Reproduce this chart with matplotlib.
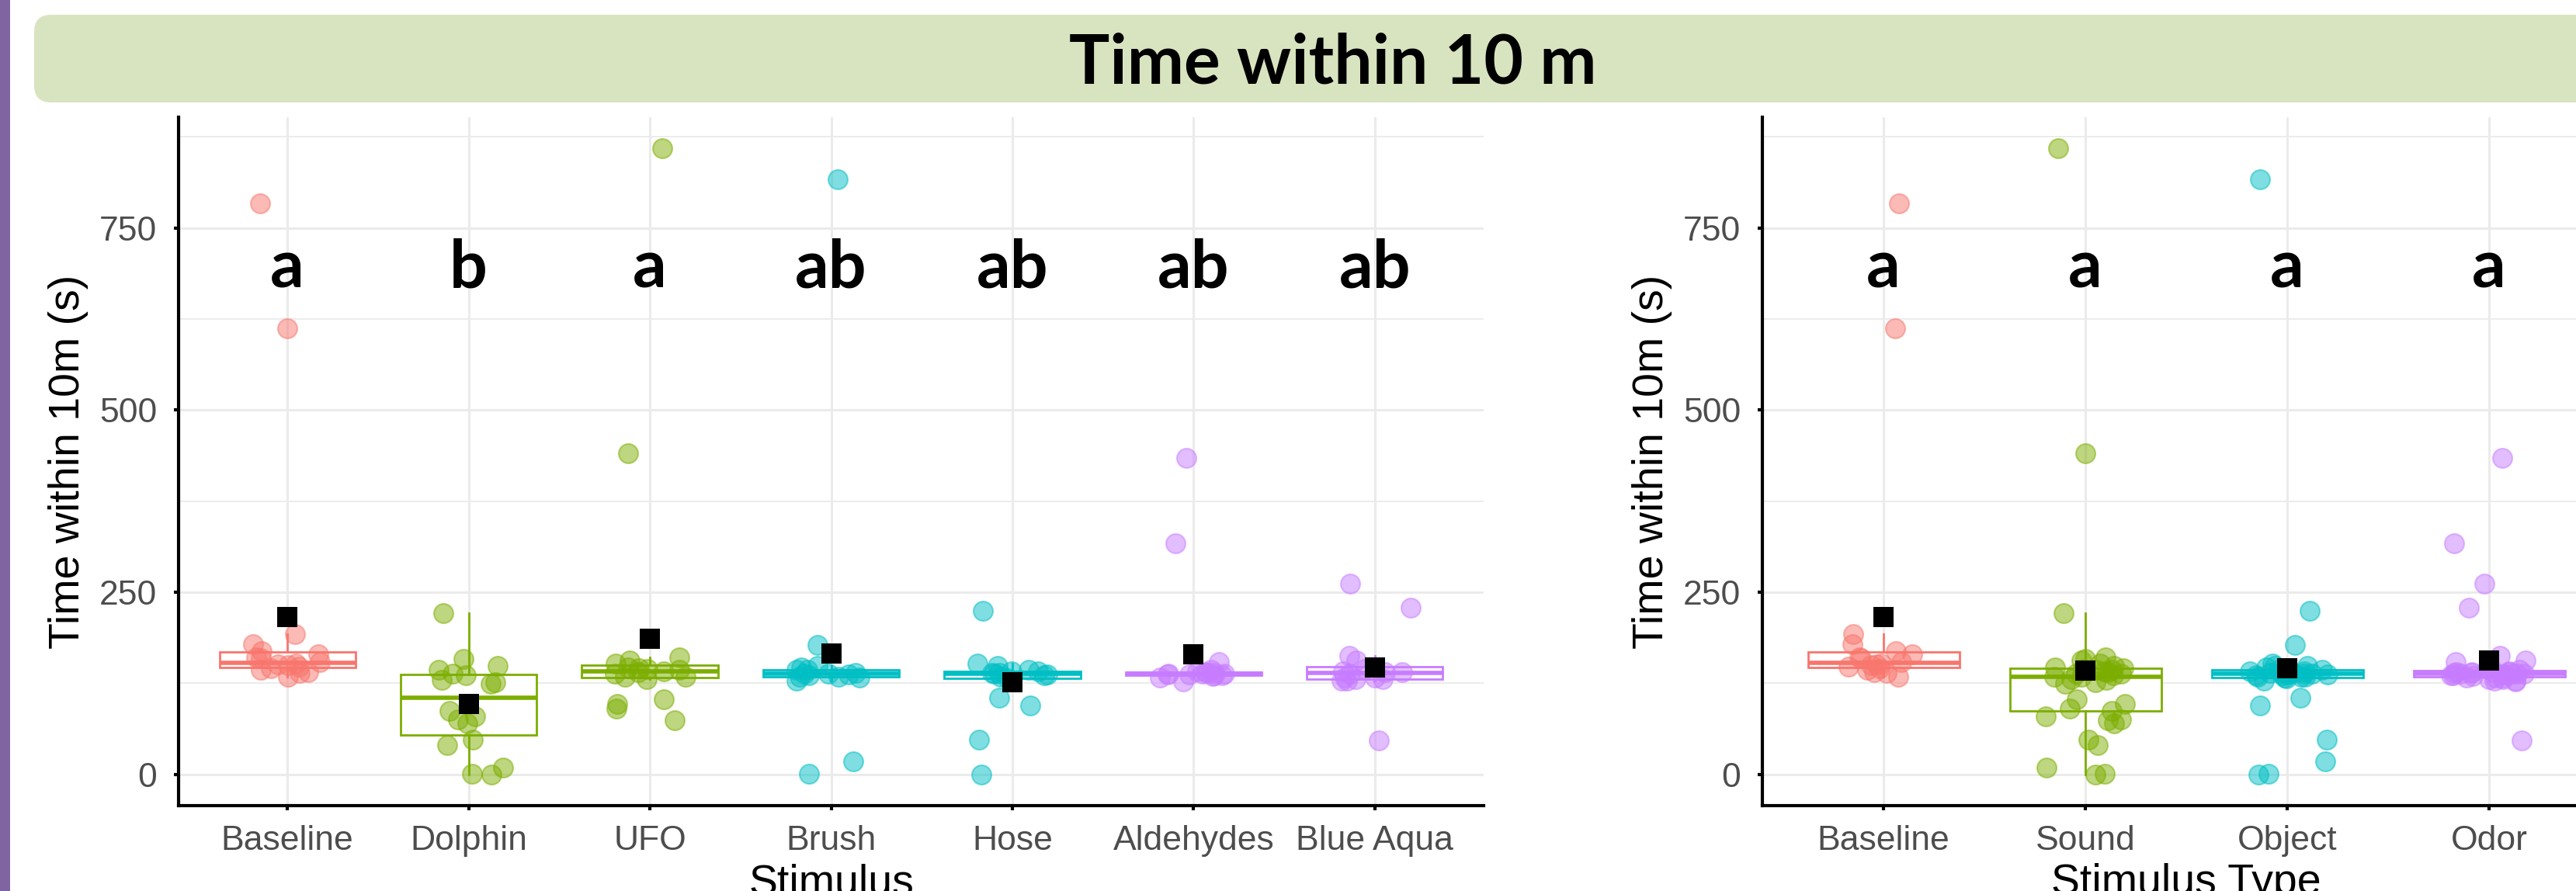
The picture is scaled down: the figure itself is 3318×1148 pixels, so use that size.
import numpy as np
import matplotlib
matplotlib.use('Agg')
from matplotlib import pyplot as plt
from matplotlib.patches import FancyBboxPatch, Rectangle
from matplotlib.ticker import MultipleLocator

# values (seconds within 10 m)
stimuli = ['Baseline', 'Dolphin', 'UFO', 'Brush', 'Hose', 'Aldehydes', 'Blue Aqua']
stimulus_type_of = ['Baseline', 'Sound', 'Sound', 'Object', 'Object', 'Odor', 'Odor']
stimulus_letters = ['a', 'b', 'a', 'ab', 'ab', 'ab', 'ab']
stimulus_types = ['Baseline', 'Sound', 'Object', 'Odor']
type_letters = ['a', 'a', 'a', 'a']

baseline = [784, 612, 192, 179, 169, 165, 160, 159, 154, 152, 151, 150, 148, 146, 144, 140, 139, 134]
dolphin = [0, 1, 9, 40, 48, 70, 75, 80, 87, 124, 126, 130, 136, 138, 143, 149, 158, 221]
ufo = [859, 441, 161, 156, 152, 147, 146, 145, 143, 141, 140, 138, 134, 134, 131, 103, 97, 90, 74]
brush = [817, 178, 149, 147, 143, 143, 139, 138, 138, 137, 136, 134, 134, 133, 129, 18, 1]
hose = [224, 152, 149, 143, 141.5, 141, 139.7, 139, 138, 137, 136, 134, 132, 105, 94, 48, 0]
aldehydes = [434, 317, 154, 143, 141, 140, 139, 139, 138, 138, 138, 137, 137, 136, 136, 135, 133, 127]
blue_aqua = [262, 229, 163, 156, 145, 141.5, 140, 140, 138, 133, 133, 131, 131, 129, 129, 47]

type_colors = {'Baseline': '#F8766D', 'Sound': '#7CAE00', 'Object': '#00BFC4', 'Odor': '#C77CFF'}

W, H = 3318, 1148
TICK_FONT = 'Liberation Sans'
LETTER_FONT = 'Lato'
LETTER_Y = 668


def draw_panel(ax, labels, groups, colors, letters, xlabel, seed, ylim):
    rng = np.random.default_rng(seed)
    for i, (vals, col, letter) in enumerate(zip(groups, colors, letters)):
        vals = np.asarray(vals, dtype=float)
        ax.boxplot(vals, positions=[i], widths=0.75, showfliers=False, showcaps=False,
                   patch_artist=True, zorder=2,
                   boxprops=dict(facecolor='white', edgecolor=col, linewidth=2),
                   medianprops=dict(color=col, linewidth=4, solid_capstyle='butt'),
                   whiskerprops=dict(color=col, linewidth=2))
        xs = i + rng.uniform(-0.2, 0.2, len(vals))
        ax.scatter(xs, vals, s=324, facecolor=col, edgecolor=col, alpha=0.5,
                   linewidths=1.5, zorder=3)
        ax.scatter([i], [vals.mean()], marker='s', s=350, color='black',
                   linewidths=0, zorder=4)
        ax.text(i, LETTER_Y, letter, ha='center', va='baseline', fontsize=62,
                fontweight='bold', family=LETTER_FONT, zorder=5)

    ax.set_xlim(-0.6, len(labels) - 0.4)
    ax.set_ylim(*ylim)
    ax.set_xticks(range(len(labels)))
    ax.set_xticklabels(labels)
    ax.set_yticks([0, 250, 500, 750])
    ax.yaxis.set_minor_locator(MultipleLocator(125))
    ax.set_axisbelow(True)
    ax.grid(which='major', color='#EBEBEB', linewidth=2.2)
    ax.grid(which='minor', axis='y', color='#EBEBEB', linewidth=1.3)
    ax.tick_params(which='minor', length=0)
    ax.tick_params(which='major', direction='out', length=4, width=3, color='black',
                   labelsize=32, labelcolor='#4D4D4D')
    ax.tick_params(axis='y', pad=16)
    ax.tick_params(axis='x', pad=14)
    for lab in ax.get_xticklabels() + ax.get_yticklabels():
        lab.set_family(TICK_FONT)
    for side in ['top', 'right']:
        ax.spines[side].set_visible(False)
    for side in ['left', 'bottom']:
        ax.spines[side].set_linewidth(3)
        ax.spines[side].set_color('black')
    ax.set_xlabel(xlabel, fontsize=40, family=TICK_FONT, labelpad=6)
    ax.set_ylabel('Time within 10m (s)', fontsize=40, family=TICK_FONT, labelpad=10)


fig = plt.figure(figsize=(W / 100, H / 100), dpi=100)

# background decorations in pixel coordinates
deco = fig.add_axes([0, 0, 1, 1])
deco.set_xlim(0, W)
deco.set_ylim(H, 0)
deco.axis('off')
deco.add_patch(Rectangle((0, 0), 13, H, color='#8064A2', lw=0))
deco.add_patch(FancyBboxPatch((44, 19), W, 113, boxstyle='round,pad=0,rounding_size=22',
                              facecolor='#D8E4BF', edgecolor='none'))
deco.text(1717, 108, 'Time within 10 m', ha='center', va='baseline', fontsize=63,
          fontweight='bold', family=LETTER_FONT)

stimulus_groups = [baseline, dolphin, ufo, brush, hose, aldehydes, blue_aqua]
type_groups = [
    baseline,
    dolphin + ufo,
    brush + hose,
    aldehydes + blue_aqua,
]

all_vals = np.concatenate([np.asarray(g, dtype=float) for g in stimulus_groups])
span = all_vals.max() - all_vals.min()
ylim = (all_vals.min() - 0.05 * span, all_vals.max() + 0.05 * span)

ax1 = fig.add_axes([230 / W, (H - 1038) / H, 1681 / W, 887 / H])
draw_panel(ax1, stimuli, stimulus_groups,
           [type_colors[t] for t in stimulus_type_of], stimulus_letters,
           'Stimulus', 11, ylim)

ax2 = fig.add_axes([2270 / W, (H - 1038) / H, 1092 / W, 887 / H])
draw_panel(ax2, stimulus_types, type_groups,
           [type_colors[t] for t in stimulus_types], type_letters,
           'Stimulus Type', 23, ylim)

fig.savefig('out.png', dpi=100)
